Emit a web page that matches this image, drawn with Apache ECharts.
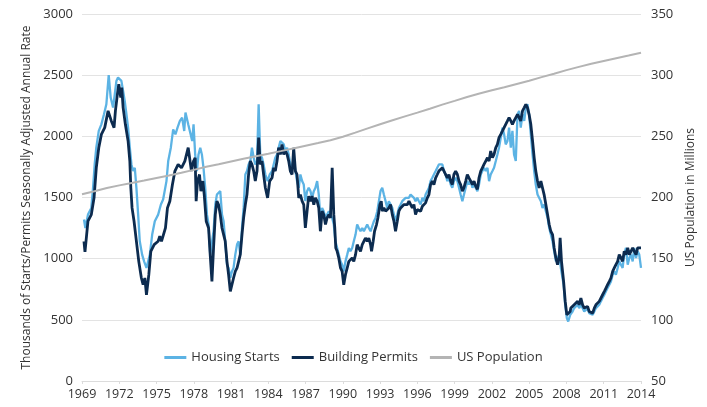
<!DOCTYPE html>
<html><head><meta charset="utf-8">
<script src="https://cdn.jsdelivr.net/npm/echarts@6/dist/echarts.min.js"></script>
<style>html,body{margin:0;padding:0;background:#fff}#c{width:707px;height:407px}</style>
</head><body><div id="c"></div>
<script>
const yearTicks = [1969,1972,1975,1978,1981,1984,1987,1990,1993,1996,1999,2002,2005,2008,2011,2014];
const housingStarts = [[1969.16,1320],[1969.27,1251],[1969.48,1360],[1969.75,1415],[1969.89,1579],[1970.02,1770],[1970.15,1907],[1970.35,2044],[1970.56,2098],[1970.77,2180],[1970.96,2262],[1971.15,2500],[1971.31,2317],[1971.50,2235],[1971.64,2344],[1971.77,2453],[1971.90,2481],[1972.04,2495],[1972.17,2453],[1972.31,2372],[1972.44,2290],[1972.58,2180],[1972.71,2071],[1972.85,1907],[1972.98,1770],[1973.11,1716],[1973.25,1743],[1973.38,1579],[1973.52,1360],[1973.65,1142],[1973.84,1033],[1974.00,978],[1974.19,924],[1974.32,924],[1974.46,1033],[1974.65,1197],[1974.86,1306],[1975.13,1360],[1975.35,1443],[1975.53,1483],[1975.80,1634],[1975.94,1798],[1976.15,1907],[1976.34,2057],[1976.52,2016],[1976.69,2071],[1976.88,2126],[1977.06,2153],[1977.23,2044],[1977.33,2194],[1977.55,2098],[1977.68,2044],[1977.87,1962],[1977.98,2098],[1978.11,1852],[1978.25,1716],[1978.38,1852],[1978.52,1907],[1978.65,1852],[1978.78,1743],[1978.92,1579],[1979.06,1360],[1979.19,1279],[1979.32,1033],[1979.46,1033],[1979.59,1224],[1979.73,1443],[1979.86,1524],[1979.99,1511],[1980.13,1552],[1980.27,1360],[1980.40,1306],[1980.53,1142],[1980.67,951],[1980.80,924],[1980.94,842],[1981.07,896],[1981.20,924],[1981.34,1033],[1981.48,1115],[1981.61,1142],[1981.74,1033],[1981.88,1251],[1982.01,1415],[1982.15,1688],[1982.28,1716],[1982.41,1770],[1982.55,1798],[1982.68,1907],[1982.82,1825],[1982.95,1770],[1983.09,1798],[1983.22,2262],[1983.35,1852],[1983.49,1825],[1983.62,1770],[1983.76,1688],[1983.94,1634],[1984.11,1688],[1984.30,1716],[1984.43,1770],[1984.56,1825],[1984.70,1852],[1984.83,1907],[1984.97,1962],[1985.10,1975],[1985.24,1934],[1985.37,1880],[1985.51,1907],[1985.64,1852],[1985.77,1770],[1985.91,1743],[1986.04,1825],[1986.18,1716],[1986.31,1634],[1986.45,1579],[1986.58,1688],[1986.72,1634],[1986.85,1606],[1986.98,1470],[1987.12,1552],[1987.25,1579],[1987.39,1552],[1987.52,1497],[1987.66,1552],[1987.79,1579],[1987.93,1634],[1988.06,1524],[1988.19,1333],[1988.33,1415],[1988.46,1388],[1988.60,1333],[1988.73,1360],[1988.87,1388],[1989.00,1360],[1989.14,1333],[1989.27,1279],[1989.40,1142],[1989.54,1088],[1989.67,1033],[1989.81,978],[1989.94,951],[1990.07,896],[1990.21,978],[1990.35,1033],[1990.48,1088],[1990.61,1060],[1990.75,1088],[1990.88,1142],[1991.02,1197],[1991.15,1279],[1991.28,1251],[1991.42,1224],[1991.56,1251],[1991.69,1224],[1991.82,1251],[1991.96,1279],[1992.09,1251],[1992.23,1224],[1992.36,1224],[1992.50,1306],[1992.63,1333],[1992.77,1388],[1992.90,1470],[1993.03,1552],[1993.17,1579],[1993.30,1524],[1993.44,1470],[1993.57,1415],[1993.70,1470],[1993.84,1470],[1993.98,1415],[1994.11,1360],[1994.24,1306],[1994.38,1360],[1994.51,1415],[1994.65,1443],[1994.78,1470],[1994.92,1470],[1995.05,1497],[1995.19,1483],[1995.32,1497],[1995.45,1524],[1995.59,1511],[1995.72,1497],[1995.85,1470],[1995.99,1497],[1996.12,1470],[1996.26,1443],[1996.40,1497],[1996.53,1470],[1996.66,1524],[1996.80,1552],[1996.93,1579],[1997.06,1634],[1997.20,1661],[1997.33,1688],[1997.47,1716],[1997.60,1743],[1997.73,1770],[1997.87,1784],[1998.01,1770],[1998.14,1716],[1998.27,1688],[1998.41,1634],[1998.54,1661],[1998.68,1606],[1998.81,1579],[1998.94,1634],[1999.08,1661],[1999.22,1634],[1999.35,1579],[1999.48,1524],[1999.62,1470],[1999.75,1524],[1999.89,1579],[2000.02,1634],[2000.15,1606],[2000.29,1634],[2000.43,1579],[2000.56,1606],[2000.69,1579],[2000.83,1552],[2000.96,1606],[2001.10,1688],[2001.23,1716],[2001.36,1743],[2001.50,1716],[2001.64,1743],[2001.77,1634],[2001.90,1688],[2002.04,1716],[2002.17,1743],[2002.31,1798],[2002.44,1852],[2002.57,1907],[2002.71,1989],[2002.85,2071],[2002.98,2016],[2003.11,1934],[2003.25,1962],[2003.38,2071],[2003.52,1907],[2003.65,2044],[2003.78,1852],[2003.92,1798],[2004.06,2180],[2004.19,2208],[2004.32,2071],[2004.46,2180],[2004.60,2126],[2004.73,2235],[2004.86,2262],[2004.99,2180],[2005.13,2016],[2005.27,1852],[2005.40,1716],[2005.53,1606],[2005.67,1524],[2005.80,1524],[2005.94,1470],[2006.07,1415],[2006.20,1443],[2006.34,1388],[2006.48,1333],[2006.61,1251],[2006.74,1197],[2006.88,1142],[2007.01,1060],[2007.15,978],[2007.28,965],[2007.41,1033],[2007.55,924],[2007.77,787],[2007.90,623],[2008.03,514],[2008.14,486],[2008.30,541],[2008.49,568],[2008.62,596],[2008.76,610],[2008.90,623],[2009.02,596],[2009.16,623],[2009.30,596],[2009.43,568],[2009.56,568],[2009.70,596],[2009.83,555],[2009.97,541],[2010.11,541],[2010.24,568],[2010.37,596],[2010.51,610],[2010.64,623],[2010.77,651],[2010.91,678],[2011.05,705],[2011.18,733],[2011.31,760],[2011.45,787],[2011.58,814],[2011.72,869],[2011.85,896],[2011.98,869],[2012.12,924],[2012.25,978],[2012.39,951],[2012.52,924],[2012.65,1033],[2012.79,1088],[2012.93,951],[2013.06,1006],[2013.19,1033],[2013.33,978],[2013.46,1088],[2013.60,1006],[2013.73,1060],[2013.86,1033],[2014.00,924]];
const buildingPermits = [[1969.16,1142],[1969.24,1055],[1969.48,1306],[1969.75,1360],[1969.97,1497],[1970.15,1743],[1970.35,1907],[1970.56,2016],[1970.83,2071],[1971.10,2208],[1971.36,2126],[1971.58,2071],[1971.69,2208],[1971.85,2344],[1971.96,2426],[1972.12,2317],[1972.20,2399],[1972.31,2235],[1972.49,2098],[1972.71,1962],[1972.85,1798],[1972.93,1580],[1973.03,1415],[1973.19,1306],[1973.38,1142],[1973.57,978],[1973.78,842],[1973.92,787],[1974.06,842],[1974.19,705],[1974.38,869],[1974.54,1060],[1974.81,1115],[1975.13,1142],[1975.26,1183],[1975.40,1142],[1975.72,1251],[1975.88,1415],[1976.07,1470],[1976.28,1607],[1976.48,1716],[1976.74,1770],[1977.01,1743],[1977.28,1798],[1977.55,1907],[1977.81,1716],[1977.98,1798],[1978.11,1825],[1978.19,1470],[1978.30,1634],[1978.46,1688],[1978.57,1552],[1978.73,1634],[1978.84,1524],[1979.00,1306],[1979.19,1251],[1979.32,1033],[1979.46,814],[1979.59,1087],[1979.73,1360],[1979.86,1470],[1979.99,1442],[1980.13,1360],[1980.27,1251],[1980.40,1197],[1980.53,1142],[1980.67,978],[1980.80,869],[1980.94,733],[1981.07,787],[1981.20,842],[1981.34,896],[1981.48,924],[1981.61,978],[1981.74,1033],[1981.88,1197],[1982.01,1333],[1982.15,1442],[1982.28,1524],[1982.41,1688],[1982.55,1798],[1982.68,1770],[1982.82,1716],[1982.95,1634],[1983.09,1716],[1983.22,1989],[1983.35,1770],[1983.49,1798],[1983.62,1688],[1983.76,1580],[1983.94,1497],[1984.11,1634],[1984.30,1661],[1984.43,1743],[1984.56,1716],[1984.70,1798],[1984.83,1907],[1984.97,1852],[1985.10,1934],[1985.24,1852],[1985.37,1880],[1985.51,1852],[1985.64,1798],[1985.77,1716],[1985.91,1688],[1986.04,1907],[1986.18,1716],[1986.31,1688],[1986.45,1497],[1986.58,1524],[1986.72,1470],[1986.85,1442],[1986.98,1251],[1987.12,1388],[1987.25,1511],[1987.39,1470],[1987.52,1511],[1987.66,1442],[1987.79,1497],[1987.93,1470],[1988.06,1415],[1988.19,1224],[1988.33,1388],[1988.46,1360],[1988.60,1279],[1988.73,1333],[1988.87,1360],[1989.00,1333],[1989.14,1743],[1989.27,1360],[1989.35,1251],[1989.43,1087],[1989.54,1060],[1989.67,1006],[1989.81,924],[1989.94,896],[1990.07,787],[1990.21,869],[1990.35,924],[1990.48,978],[1990.61,964],[1990.75,1006],[1990.88,978],[1991.02,1033],[1991.15,1115],[1991.28,1087],[1991.42,1060],[1991.56,1115],[1991.69,1142],[1991.82,1169],[1991.96,1142],[1992.09,1169],[1992.23,1115],[1992.31,1060],[1992.44,1142],[1992.55,1224],[1992.71,1279],[1992.82,1333],[1992.98,1442],[1993.09,1470],[1993.17,1388],[1993.30,1415],[1993.44,1388],[1993.57,1388],[1993.70,1415],[1993.84,1442],[1993.98,1360],[1994.11,1306],[1994.24,1224],[1994.38,1306],[1994.51,1388],[1994.65,1415],[1994.78,1429],[1994.92,1442],[1995.05,1456],[1995.19,1442],[1995.32,1470],[1995.45,1456],[1995.59,1415],[1995.72,1442],[1995.85,1360],[1995.99,1401],[1996.12,1415],[1996.26,1388],[1996.40,1429],[1996.53,1415],[1996.66,1456],[1996.80,1497],[1996.93,1524],[1997.06,1606],[1997.20,1634],[1997.33,1606],[1997.47,1661],[1997.60,1688],[1997.73,1716],[1997.87,1716],[1998.01,1743],[1998.14,1716],[1998.27,1688],[1998.41,1661],[1998.54,1688],[1998.68,1634],[1998.81,1606],[1998.94,1688],[1999.08,1716],[1999.22,1688],[1999.35,1634],[1999.48,1606],[1999.62,1552],[1999.75,1580],[1999.89,1634],[2000.02,1688],[2000.15,1661],[2000.29,1634],[2000.43,1606],[2000.56,1634],[2000.69,1593],[2000.83,1566],[2000.96,1661],[2001.10,1716],[2001.23,1743],[2001.36,1770],[2001.50,1798],[2001.64,1825],[2001.77,1798],[2001.90,1880],[2002.04,1825],[2002.17,1852],[2002.31,1907],[2002.44,1934],[2002.57,1989],[2002.71,2016],[2002.85,2044],[2002.98,2071],[2003.11,2098],[2003.25,2126],[2003.38,2153],[2003.52,2126],[2003.65,2098],[2003.78,2126],[2003.92,2153],[2004.06,2180],[2004.19,2153],[2004.32,2126],[2004.46,2208],[2004.60,2235],[2004.73,2262],[2004.86,2235],[2004.99,2180],[2005.13,2098],[2005.27,1962],[2005.40,1825],[2005.53,1716],[2005.67,1634],[2005.80,1579],[2005.94,1634],[2006.07,1579],[2006.20,1524],[2006.34,1443],[2006.48,1360],[2006.61,1279],[2006.74,1224],[2006.88,1197],[2007.01,1088],[2007.15,1006],[2007.28,951],[2007.41,1006],[2007.49,1170],[2007.60,978],[2007.77,814],[2007.90,650],[2008.03,541],[2008.14,527],[2008.30,568],[2008.35,596],[2008.49,610],[2008.62,623],[2008.76,637],[2008.90,651],[2009.02,623],[2009.16,678],[2009.30,623],[2009.43,596],[2009.56,582],[2009.70,610],[2009.83,568],[2009.97,582],[2010.11,555],[2010.24,596],[2010.37,623],[2010.51,623],[2010.64,651],[2010.77,664],[2010.91,705],[2011.05,733],[2011.18,760],[2011.31,787],[2011.45,814],[2011.58,842],[2011.72,896],[2011.85,924],[2011.98,951],[2012.12,978],[2012.25,1033],[2012.39,1006],[2012.52,978],[2012.65,1060],[2012.79,1033],[2012.93,1088],[2013.06,1033],[2013.19,1060],[2013.33,1088],[2013.46,1060],[2013.60,1033],[2013.73,1088],[2013.86,1074],[2014.00,1088]];
const usPopulation = [[1969,202.7],[1970,205.1],[1971,207.7],[1972,209.9],[1973,211.9],[1974,213.9],[1975,216.0],[1976,218.0],[1977,220.2],[1978,222.6],[1979,225.1],[1980,227.2],[1981,229.5],[1982,231.7],[1983,233.8],[1984,235.8],[1985,237.9],[1986,240.1],[1987,242.3],[1988,244.5],[1989,246.8],[1990,249.6],[1991,253.0],[1992,256.5],[1993,259.9],[1994,263.1],[1995,266.3],[1996,269.4],[1997,272.6],[1998,275.9],[1999,279.0],[2000,282.2],[2001,285.0],[2002,287.6],[2003,290.1],[2004,292.8],[2005,295.5],[2006,298.4],[2007,301.2],[2008,304.1],[2009,306.8],[2010,309.3],[2011,311.6],[2012,313.9],[2013,316.1],[2014,318.4]];

const FONT = 'Open Sans';
const TXT = '#333333';
const chart = echarts.init(document.getElementById('c'), null, {renderer: 'canvas'});
chart.setOption({
  animation: false,
  backgroundColor: '#ffffff',
  textStyle: {fontFamily: FONT},
  grid: {left: 82, right: 66, top: 14, bottom: 26, containLabel: false},
  legend: {
    top: 346, left: 'center',
    icon: 'rect', itemWidth: 22, itemHeight: 3, itemGap: 12,
    textStyle: {fontFamily: FONT, fontSize: 13, color: TXT},
    data: ['Housing Starts', 'Building Permits', 'US Population']
  },
  xAxis: {
    type: 'value', min: yearTicks[0], max: yearTicks[yearTicks.length - 1], interval: 3,
    axisLine: {show: true, lineStyle: {color: '#dcdcdc', width: 1}},
    axisTick: {show: true, length: 3, lineStyle: {color: '#dcdcdc'}},
    splitLine: {show: false},
    axisLabel: {fontFamily: FONT, fontSize: 12.5, color: TXT, margin: 7, formatter: v => String(v)}
  },
  yAxis: [{
    type: 'value', min: 0, max: 3000, interval: 500,
    name: 'Thousands of Starts/Permits Seasonally Adjusted Annual Rate',
    nameLocation: 'middle', nameGap: 45, nameRotate: 90,
    nameTextStyle: {fontFamily: FONT, fontSize: 12, color: TXT},
    axisLine: {show: false}, axisTick: {show: false},
    splitLine: {show: true, lineStyle: {color: '#e3e3e3', width: 1}},
    axisLabel: {fontFamily: FONT, fontSize: 13, color: TXT, margin: 9, formatter: v => String(v)}
  }, {
    type: 'value', min: 50, max: 350, interval: 50, position: 'right',
    name: 'US Population in Millions',
    nameLocation: 'middle', nameGap: 44, nameRotate: 90,
    nameTextStyle: {fontFamily: FONT, fontSize: 12, color: TXT},
    axisLine: {show: false}, axisTick: {show: false}, splitLine: {show: false},
    axisLabel: {fontFamily: FONT, fontSize: 13, color: TXT, margin: 10, formatter: v => String(v)}
  }],
  series: [{
    name: 'Housing Starts', type: 'line', yAxisIndex: 0, data: housingStarts,
    showSymbol: false, symbol: 'none', smooth: false,
    lineStyle: {color: '#5cb3e4', width: 2.3}, itemStyle: {color: '#5cb3e4'}, z: 2
  }, {
    name: 'Building Permits', type: 'line', yAxisIndex: 0, data: buildingPermits,
    showSymbol: false, symbol: 'none', smooth: false,
    lineStyle: {color: '#0c2b4f', width: 2.8}, itemStyle: {color: '#0c2b4f'}, z: 3
  }, {
    name: 'US Population', type: 'line', yAxisIndex: 1, data: usPopulation,
    showSymbol: false, symbol: 'none', smooth: false,
    lineStyle: {color: '#b4b4b4', width: 2}, itemStyle: {color: '#b4b4b4'}, z: 4
  }]
});
</script></body></html>
